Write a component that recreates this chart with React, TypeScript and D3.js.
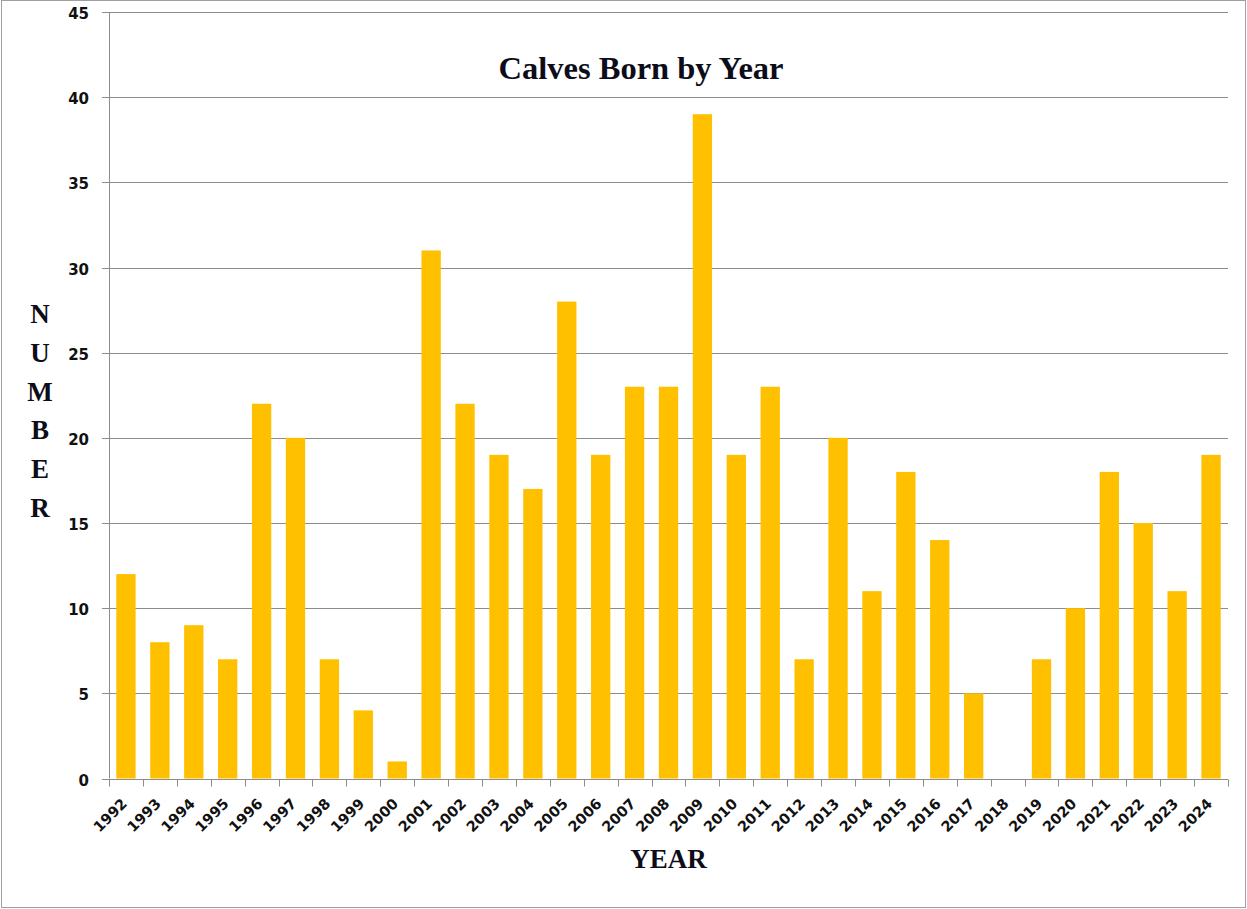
import React, { useEffect, useRef } from "react";
import * as d3 from "d3";

// Calves born per year
const years: string[] = [
  "1992", "1993", "1994", "1995", "1996", "1997", "1998", "1999", "2000", "2001",
  "2002", "2003", "2004", "2005", "2006", "2007", "2008", "2009", "2010", "2011",
  "2012", "2013", "2014", "2015", "2016", "2017", "2018", "2019", "2020", "2021",
  "2022", "2023", "2024",
];
const calves: number[] = [
  12, 8, 9, 7, 22, 20, 7, 4, 1, 31,
  22, 19, 17, 28, 19, 23, 23, 39, 19, 23,
  7, 20, 11, 18, 14, 5, 0, 7, 10, 18,
  15, 11, 19,
];
const yTicks: number[] = [0, 5, 10, 15, 20, 25, 30, 35, 40, 45];
const titleText = "Calves Born by Year";
const xTitle = "YEAR";
const yTitle = "NUMBER";

const W = 1247;
const H = 909;

export default function App() {
  const ref = useRef<SVGSVGElement | null>(null);

  useEffect(() => {
    const svg = d3.select(ref.current);
    svg.selectAll("*").remove();

    const left = 109;
    const right = 1228;
    const top = 12;
    const bottom = 778.5;

    const x = d3.scaleBand<string>().domain(years).range([left, right]).paddingInner(0.43).paddingOuter(0.215);
    const band = d3.scaleBand<string>().domain(years).range([left, right]);
    const y = d3.scaleLinear().domain([0, 45]).range([bottom, top]);

    // outer frame
    svg.append("rect")
      .attr("x", 1.5).attr("y", 0.5).attr("width", 1244).attr("height", 907)
      .attr("fill", "white").attr("stroke", "#a0a0a0").attr("stroke-width", 1);

    // gridlines and y ticks
    const grid = svg.append("g");
    yTicks.forEach((t) => {
      const yy = Math.round(y(t)) + 0.5;
      grid.append("line")
        .attr("x1", left - 7).attr("x2", right)
        .attr("y1", yy).attr("y2", yy)
        .attr("stroke", "#8c8c8c").attr("stroke-width", 1);
      grid.append("text")
        .attr("x", 89).attr("y", yy + 1)
        .attr("text-anchor", "end").attr("dominant-baseline", "central")
        .attr("font-family", "DejaVu Sans, Verdana, sans-serif")
        .attr("font-weight", "bold").attr("font-size", 15)
        .attr("fill", "#111")
        .text(String(t));
    });

    // y axis line
    svg.append("line")
      .attr("x1", left + 0.5).attr("x2", left + 0.5)
      .attr("y1", top).attr("y2", bottom)
      .attr("stroke", "#8c8c8c");

    // bars
    svg.append("g").selectAll("rect")
      .data(years)
      .join("rect")
      .attr("x", (d) => x(d)!)
      .attr("width", x.bandwidth())
      .attr("y", (_d, i) => y(calves[i]))
      .attr("height", (_d, i) => y(0) - y(calves[i]))
      .attr("fill", "#FFC000");

    // x axis line and ticks between categories
    const base = Math.round(y(0)) + 0.5;
    svg.append("line")
      .attr("x1", left).attr("x2", right)
      .attr("y1", base).attr("y2", base)
      .attr("stroke", "#8c8c8c");
    const edges = years.map((d) => band(d)!).concat([right]);
    svg.append("g").selectAll("line")
      .data(edges)
      .join("line")
      .attr("x1", (d) => Math.round(d) + 0.5).attr("x2", (d) => Math.round(d) + 0.5)
      .attr("y1", base).attr("y2", base + 7)
      .attr("stroke", "#8c8c8c");

    // rotated year labels
    svg.append("g").selectAll("text")
      .data(years)
      .join("text")
      .attr("transform", (d) => `translate(${band(d)! + band.bandwidth() / 2 + 2},${bottom + 26}) rotate(-45)`)
      .attr("text-anchor", "end")
      .attr("font-family", "DejaVu Sans, Verdana, sans-serif")
      .attr("font-weight", "bold").attr("font-size", 14.5)
      .attr("fill", "#111")
      .text((d) => d);

    // title
    svg.append("text")
      .attr("x", 641).attr("y", 79)
      .attr("text-anchor", "middle")
      .attr("font-family", "Liberation Serif, Times New Roman, serif")
      .attr("font-weight", "bold").attr("font-size", 32.5)
      .attr("fill", "#0d0d1a")
      .text(titleText);

    // x axis title
    svg.append("text")
      .attr("x", (left + right) / 2).attr("y", 868)
      .attr("text-anchor", "middle")
      .attr("font-family", "Liberation Serif, Times New Roman, serif")
      .attr("font-weight", "bold").attr("font-size", 27)
      .attr("fill", "#0d0d1a")
      .text(xTitle);

    // y axis title, letters stacked vertically
    const yt = svg.append("text")
      .attr("text-anchor", "middle")
      .attr("font-family", "Liberation Serif, Times New Roman, serif")
      .attr("font-weight", "bold").attr("font-size", 27)
      .attr("fill", "#0d0d1a");
    yTitle.split("").forEach((ch, i) => {
      yt.append("tspan").attr("x", 40).attr("y", 323 + i * 38.8).text(ch);
    });
  }, []);

  return (
    <svg
      ref={ref}
      width={W}
      height={H}
      style={{ position: "absolute", left: 0, top: 0, background: "white" }}
    />
  );
}
